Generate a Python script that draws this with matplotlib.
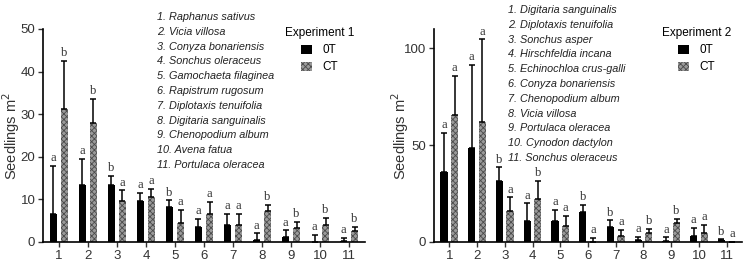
import matplotlib.pyplot as plt
import matplotlib.patches as mpatches
import numpy as np

plt.rcParams['font.family'] = ['Liberation Sans', 'DejaVu Sans']
plt.rcParams['hatch.color'] = '#4a4a4a'
plt.rcParams['hatch.linewidth'] = 0.6

positions = list(range(1, 12))

# Experiment 1
exp1_ot = [6.6, 13.3, 13.3, 9.6, 8.3, 3.6, 3.9, 0.4, 1.25, 0.1, 0.3]
exp1_ot_err = [11.3, 6.2, 2.2, 1.9, 1.5, 1.8, 2.7, 1.6, 1.45, 1.6, 0.6]
exp1_ct = [31.2, 27.9, 9.7, 10.5, 4.5, 6.6, 3.9, 7.2, 3.3, 4.0, 2.6]
exp1_ct_err = [11.4, 5.7, 2.4, 2.0, 3.1, 2.9, 2.7, 1.5, 1.5, 1.6, 0.9]
exp1_ot_letters = ['a', 'a', 'b', 'a', 'b', 'a', 'a', 'a', 'a', 'a', 'a']
exp1_ct_letters = ['b', 'b', 'a', 'a', 'a', 'a', 'a', 'b', 'b', 'b', 'b']
exp1_species = ['Raphanus sativus', 'Vicia villosa', 'Conyza bonariensis',
                'Sonchus oleraceus', 'Gamochaeta filaginea', 'Rapistrum rugosum',
                'Diplotaxis tenuifolia', 'Digitaria sanguinalis', 'Chenopodium album',
                'Avena fatua', 'Portulaca oleracea']

# Experiment 2
exp2_ot = [36.2, 48.6, 31.6, 10.8, 11.1, 15.5, 7.8, 1.0, 0.5, 3.3, 1.0]
exp2_ot_err = [20.2, 42.8, 7.0, 9.2, 5.4, 3.6, 3.4, 1.6, 1.9, 3.9, 0.4]
exp2_ct = [65.7, 61.9, 16.1, 22.4, 8.5, 0.0, 3.1, 4.8, 9.7, 4.8, 0.2]
exp2_ct_err = [20.0, 42.8, 7.0, 9.0, 5.0, 2.2, 3.3, 1.9, 2.2, 4.2, 0.0]
exp2_ot_letters = ['a', 'a', 'b', 'a', 'a', 'b', 'b', 'a', 'a', 'a', 'b']
exp2_ct_letters = ['a', 'a', 'a', 'b', 'a', 'a', 'a', 'b', 'b', 'a', 'a']
exp2_species = ['Digitaria sanguinalis', 'Diplotaxis tenuifolia', 'Sonchus asper',
                'Hirschfeldia incana', 'Echinochloa crus-galli', 'Conyza bonariensis',
                'Chenopodium album', 'Vicia villosa', 'Portulaca oleracea',
                'Cynodon dactylon', 'Sonchus oleraceus']

ct_face = '#9a9a9a'


def draw_panel(ax, ot, ot_err, ct, ct_err, ot_let, ct_let, title, ymax, yticks, pad, label_x):
    x = np.array(positions)
    w = 0.26
    off = 0.19
    ax.bar(x - off, ot, w, color='black', zorder=2)
    ax.bar(x + off, ct, w, color=ct_face, hatch='xxxxxx', edgecolor='#4a4a4a', linewidth=0, zorder=2)
    zeros = np.zeros(len(x))
    ax.errorbar(x - off, ot, yerr=[zeros, ot_err], fmt='none', ecolor='black',
                elinewidth=1.1, capsize=2, capthick=1.1, zorder=3)
    ax.errorbar(x + off, ct, yerr=[zeros, ct_err], fmt='none', ecolor='black',
                elinewidth=1.1, capsize=2, capthick=1.1, zorder=3)
    for xi, v, e, l in zip(x, ot, ot_err, ot_let):
        ax.text(xi - off, v + e + pad, l, ha='center', va='bottom', fontsize=9,
                family='Liberation Serif', color='#333333')
    for xi, v, e, l in zip(x, ct, ct_err, ct_let):
        ax.text(xi + off, v + e + pad, l, ha='center', va='bottom', fontsize=9,
                family='Liberation Serif', color='#333333')

    ax.set_xlim(0.45, 11.55)
    ax.set_ylim(0, ymax)
    ax.set_yticks(yticks)
    ax.set_xticks(positions)
    ax.spines['top'].set_visible(False)
    ax.spines['right'].set_visible(False)
    ax.spines['left'].set_linewidth(1.2)
    ax.spines['bottom'].set_linewidth(1.2)
    ax.tick_params(axis='both', labelsize=9.5, colors='#333333', width=1, length=3.5, pad=2)
    ax.set_ylabel('Seedlings m$^{2}$', fontsize=10.5, color='#333333', va='center')
    ax.yaxis.set_label_coords(label_x, 0.5)

    handles = [mpatches.Patch(facecolor='black', label='0T'),
               mpatches.Patch(facecolor=ct_face, hatch='xxxxxx', edgecolor='#4a4a4a', linewidth=0, label='CT')]
    leg = ax.legend(handles=handles, title=title, loc='upper right', bbox_to_anchor=(1.0, 1.06),
                    frameon=False, fontsize=8.5, title_fontsize=8.5, handlelength=0.9,
                    handleheight=0.8, handletextpad=0.9, labelspacing=0.45)
    leg._legend_box.align = 'center'
    return ax


fig = plt.figure(figsize=(7.5, 2.68), dpi=100)
ax1 = fig.add_axes([43 / 750, 26 / 268, 322 / 750, 213 / 268])
ax2 = fig.add_axes([434 / 750, 26 / 268, 308 / 750, 213 / 268])

draw_panel(ax1, exp1_ot, exp1_ot_err, exp1_ct, exp1_ct_err, exp1_ot_letters, exp1_ct_letters,
           'Experiment 1', 50, [0, 10, 20, 30, 40, 50], 0.4, -0.1)
draw_panel(ax2, exp2_ot, exp2_ot_err, exp2_ct, exp2_ct_err, exp2_ot_letters, exp2_ct_letters,
           'Experiment 2', 110, [0, 50, 100], 0.9, -0.11)

for i, name in enumerate(exp1_species):
    fig.text(157 / 750, 1 - (17 + 14.8 * i) / 268, f'{i + 1}. {name}', fontsize=7.8,
             style='italic', va='center', ha='left', color='#222222')
for i, name in enumerate(exp2_species):
    fig.text(508 / 750, 1 - (10 + 14.8 * i) / 268, f'{i + 1}. {name}', fontsize=7.8,
             style='italic', va='center', ha='left', color='#222222')

fig.savefig('out.png', dpi=100)
